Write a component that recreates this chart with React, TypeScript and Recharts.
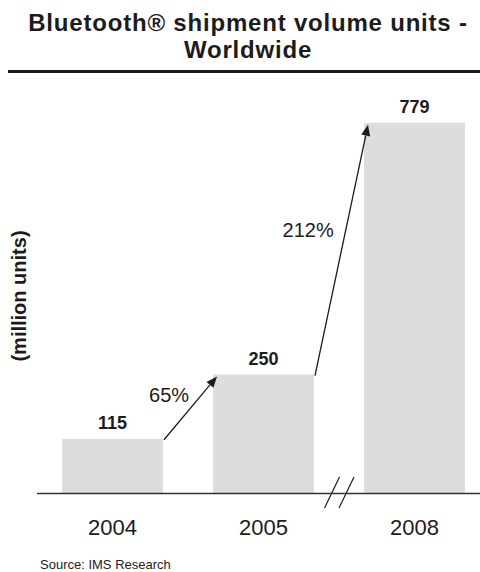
import React from 'react';
import { BarChart, Bar, XAxis, YAxis, LabelList } from 'recharts';

const years = ['2004', '2005', '2008'];
const shipments = [115, 250, 779];
const growth = ['', '65%', '212%'];
const breakBefore = [false, false, true];

const data = years.map((year, i) => ({ year, units: shipments[i] }));

const FONT = '"Liberation Sans", Arial, Helvetica, sans-serif';
const INK = '#1c1c1c';
const BAR_FILL = '#dcdddf';
const GAP = 25; // px of empty band on each side of a bar
const LABEL_T = [0, 0.7, 0.58]; // where along each arrow the % label sits

// bar rect + growth arrow coming in from the previous bar + axis break marks
const BarWithArrow = (props: any) => {
  const { x, y, width, height, index } = props;
  const base = y + height;
  const ppu = height / shipments[index];
  const parts: React.ReactNode[] = [
    <rect key="r" x={x} y={y} width={width} height={height} fill={BAR_FILL} />
  ];

  if (index > 0) {
    const sx = x - 2 * GAP + 1;
    const sy = base - shipments[index - 1] * ppu + 1;
    const ex = x + 4;
    const ey = y + 2;
    const len = Math.hypot(ex - sx, ey - sy);
    const ux = (ex - sx) / len;
    const uy = (ey - sy) / len;
    const bx = ex - 11 * ux;
    const by = ey - 11 * uy;
    const nx = -uy * 4.5;
    const ny = ux * 4.5;
    const t = LABEL_T[index];
    parts.push(
      <line key="a" x1={sx} y1={sy} x2={bx} y2={by} stroke={INK} strokeWidth={1.3} />,
      <polygon key="h" points={`${ex},${ey} ${bx + nx},${by + ny} ${bx - nx},${by - ny}`} fill={INK} />,
      <text
        key="g"
        x={sx + t * (ex - sx) - 12}
        y={sy + t * (ey - sy)}
        textAnchor="end"
        dominantBaseline="central"
        fontSize={20}
        fill={INK}
      >
        {growth[index]}
      </text>
    );
  }

  if (breakBefore[index]) {
    const cx = x - GAP;
    parts.push(
      <line key="s1" x1={cx - 14.5} y1={base + 14.5} x2={cx + 0.5} y2={base - 16.5} stroke={INK} strokeWidth={1.2} />,
      <line key="s2" x1={cx} y1={base + 14.5} x2={cx + 15} y2={base - 16.5} stroke={INK} strokeWidth={1.2} />
    );
  }

  return <g>{parts}</g>;
};

export default function App() {
  return (
    <div
      style={{
        position: 'absolute',
        left: 0,
        top: 0,
        width: 480,
        height: 572,
        overflow: 'hidden',
        background: '#fff',
        fontFamily: FONT,
        color: INK
      }}
    >
      <div
        style={{
          position: 'absolute',
          left: 16,
          top: 9,
          width: 464,
          textAlign: 'center',
          fontSize: 24,
          fontWeight: 'bold',
          lineHeight: '27px',
          letterSpacing: 0.8
        }}
      >
        <div>Bluetooth® shipment volume units -</div>
        <div>Worldwide</div>
      </div>
      <div style={{ position: 'absolute', left: 8, top: 69.5, width: 472, height: 3, background: INK }} />

      <div style={{ position: 'absolute', left: 0, top: 0 }}>
        <BarChart
          width={500}
          height={572}
          data={data}
          margin={{ top: 98.5, right: 10, bottom: 38.5, left: 0 }}
          barCategoryGap={GAP}
          style={{ fontFamily: FONT }}
        >
          <XAxis
            dataKey="year"
            height={40}
            axisLine={{ stroke: '#333', strokeWidth: 1.5 }}
            tickLine={false}
            tickSize={6}
            tickMargin={20}
            tick={{ fill: INK, fontSize: 22 }}
          />
          <YAxis
            width={37}
            domain={[0, 830]}
            axisLine={false}
            tickLine={false}
            tick={false}
            label={{
              value: '(million units)',
              angle: -90,
              position: 'center',
              fill: INK,
              fontSize: 20,
              fontWeight: 'bold'
            }}
          />
          <Bar dataKey="units" shape={BarWithArrow} isAnimationActive={false}>
            <LabelList dataKey="units" position="top" offset={10} fill={INK} fontSize={18} fontWeight="bold" />
          </Bar>
        </BarChart>
      </div>

      <div style={{ position: 'absolute', left: 40, top: 558, fontSize: 13, lineHeight: '13px' }}>
        Source: IMS Research
      </div>
    </div>
  );
}
